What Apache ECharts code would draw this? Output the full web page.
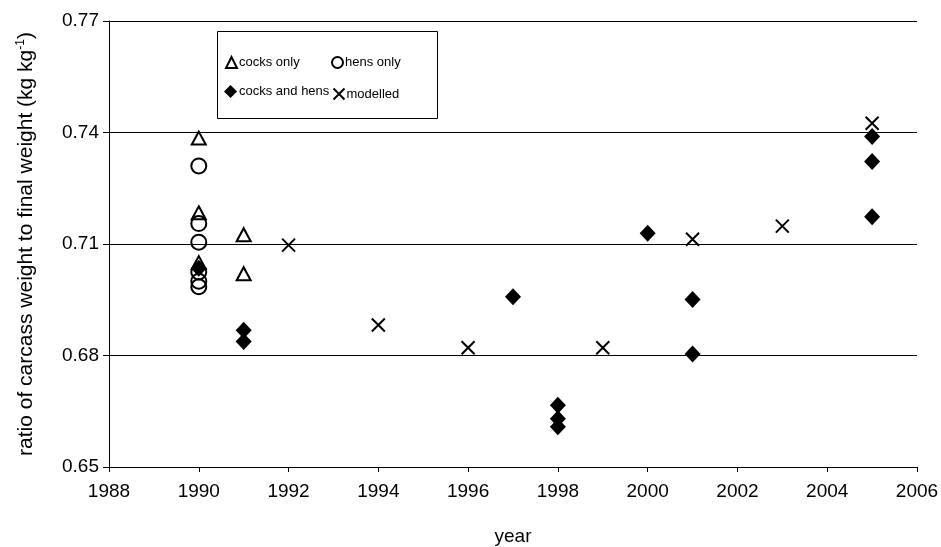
<!DOCTYPE html>
<html>
<head>
<meta charset="utf-8">
<script src="https://cdn.jsdelivr.net/npm/echarts@6/dist/echarts.min.js"></script>
<style>
html,body{margin:0;padding:0;background:#fff;}
#chart{width:941px;height:547px;}
</style>
</head>
<body>
<div id="chart"></div>
<script>
// ---- data ----
var cocksYears = [1990, 1990, 1990, 1991, 1991];
var cocksVals  = [0.7385, 0.7184, 0.7050, 0.7125, 0.7020];

var hensYears = [1990, 1990, 1990, 1990, 1990, 1990];
var hensVals  = [0.7310, 0.7155, 0.7105, 0.7025, 0.7000, 0.6985];

var bothYears = [1990, 1991, 1991, 1997, 1998, 1998, 1998, 2000, 2001, 2001, 2005, 2005, 2005];
var bothVals  = [0.7035, 0.6868, 0.6838, 0.6958, 0.6666, 0.6630, 0.6608, 0.7129, 0.6951, 0.6804, 0.7389, 0.7322, 0.7173];

var modelYears = [1992, 1994, 1996, 1999, 2001, 2003, 2005];
var modelVals  = [0.7097, 0.6882, 0.6821, 0.6821, 0.7113, 0.7148, 0.7425];

var seriesNames = ['cocks only', 'hens only', 'cocks and hens', 'modelled'];
var yTicks = [0.65, 0.68, 0.71, 0.74, 0.77];
var xTicks = [1988, 1990, 1992, 1994, 1996, 1998, 2000, 2002, 2004, 2006];

function pairs(xs, ys) { return xs.map(function (x, i) { return [x, ys[i]]; }); }

var FONT = 'Liberation Sans, Arial, sans-serif';
var crossPath = 'path://M0,0L10,10M10,0L0,10';

var chart = echarts.init(document.getElementById('chart'), null, {renderer: 'canvas'});

function legendAt(name, left, top, size) {
  return {
    data: [name], left: left, top: top, orient: 'horizontal',
    itemWidth: size, itemHeight: size, itemGap: 4, padding: 0, selectedMode: false,
    textStyle: {fontFamily: FONT, fontSize: 13, color: '#000', padding: [0, 0, 0, -3]}
  };
}

var option = {
  animation: false,
  backgroundColor: '#fff',
  grid: {left: 109, right: 24, top: 21, bottom: 80, containLabel: false, outerBoundsMode: 'none'},
  legend: [
    legendAt('cocks only', 225, 56, 11),
    legendAt('hens only', 331, 56, 11),
    legendAt('cocks and hens', 224, 85, 13),
    legendAt('modelled', 331, 86, 11)
  ],
  graphic: [{
    type: 'rect', left: 217, top: 31, z: 0,
    shape: {width: 220, height: 87},
    style: {fill: '#fff', stroke: '#000', lineWidth: 1}
  }],
  xAxis: {
    type: 'value', min: xTicks[0], max: xTicks[xTicks.length - 1], interval: 2,
    name: 'year', nameLocation: 'middle', nameGap: 60,
    nameTextStyle: {fontFamily: FONT, fontSize: 19, color: '#000'},
    axisLine: {show: true, lineStyle: {color: '#000', width: 1}},
    axisTick: {show: true, inside: false, length: 5, lineStyle: {color: '#000'}},
    axisLabel: {fontFamily: FONT, fontSize: 19, color: '#000', margin: 15,
      formatter: function (v) { return String(Math.round(v)); }},
    splitLine: {show: false}
  },
  yAxis: {
    type: 'value', min: yTicks[0], max: yTicks[yTicks.length - 1], interval: 0.03,
    name: 'ratio of carcass weight to final weight (kg kg{sup|-1})',
    nameLocation: 'middle', nameGap: 71, nameRotate: 90,
    nameTextStyle: {fontFamily: FONT, fontSize: 21, color: '#000',
      rich: {sup: {fontFamily: FONT, fontSize: 12, color: '#000', verticalAlign: 'top', lineHeight: 23}}},
    axisLine: {show: true, lineStyle: {color: '#000', width: 1}},
    axisTick: {show: true, inside: false, length: 6, lineStyle: {color: '#000'}},
    axisLabel: {fontFamily: FONT, fontSize: 19, color: '#000', margin: 10,
      formatter: function (v) { return v.toFixed(2); }},
    splitLine: {show: true, lineStyle: {color: '#000', width: 1}}
  },
  series: [
    {
      name: seriesNames[0], type: 'scatter', data: pairs(cocksYears, cocksVals),
      symbol: 'triangle', symbolSize: [14, 13], z: 2,
      itemStyle: {color: 'rgba(255,255,255,0)', borderColor: '#000', borderWidth: 2, opacity: 1}
    },
    {
      name: seriesNames[1], type: 'scatter', data: pairs(hensYears, hensVals),
      symbol: 'circle', symbolSize: 15, z: 3,
      itemStyle: {color: 'rgba(255,255,255,0)', borderColor: '#000', borderWidth: 2, opacity: 1}
    },
    {
      name: seriesNames[2], type: 'scatter', data: pairs(bothYears, bothVals),
      symbol: 'diamond', symbolSize: [16, 17], z: 4,
      itemStyle: {color: '#000', borderColor: '#000', borderWidth: 0, opacity: 1}
    },
    {
      name: seriesNames[3], type: 'scatter', data: pairs(modelYears, modelVals),
      symbol: crossPath, symbolSize: 13, z: 5,
      itemStyle: {color: 'none', borderColor: '#000', borderWidth: 2, opacity: 1}
    }
  ]
};
chart.setOption(option);
</script>
</body>
</html>
